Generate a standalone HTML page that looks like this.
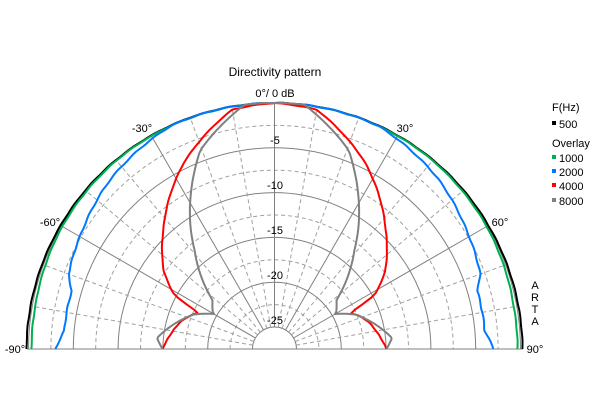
<!DOCTYPE html>
<html><head><meta charset="utf-8"><style>
body{margin:0;background:#fff}
svg{display:block;font-family:"Liberation Sans",sans-serif}
</style></head><body>
<svg id="s" width="600" height="400" viewBox="0 0 600 400">
<rect width="600" height="400" fill="#fff"/>
<g id="grid"></g>
<g id="curves" fill="none" stroke-width="2" stroke-linejoin="round"></g>
<g font-size="11" fill="#000">
<text x="275" y="76" text-anchor="middle" font-size="12">Directivity pattern</text>
<text x="275" y="97" text-anchor="middle">0°/ 0 dB</text>
<text x="142" y="132" text-anchor="middle">-30°</text>
<text x="405" y="132" text-anchor="middle">30°</text>
<text x="50" y="226" text-anchor="middle">-60°</text>
<text x="500" y="226" text-anchor="middle">60°</text>
<text x="15" y="353" text-anchor="middle">-90°</text>
<text x="535" y="353" text-anchor="middle">90°</text>
<text x="275" y="144" text-anchor="middle">-5</text>
<text x="275" y="189" text-anchor="middle">-10</text>
<text x="275" y="234" text-anchor="middle">-15</text>
<text x="275" y="279" text-anchor="middle">-20</text>
<text x="275" y="324" text-anchor="middle">-25</text>
<text x="552" y="111">F(Hz)</text>
<rect x="552" y="121" width="4" height="4" fill="#000"/><text x="559" y="128">500</text>
<text x="552" y="147">Overlay</text>
<rect x="552" y="155" width="4" height="4" fill="#00b050"/><text x="559" y="162">1000</text>
<rect x="552" y="169" width="4" height="4" fill="#0078ff"/><text x="559" y="176">2000</text>
<rect x="552" y="183" width="4" height="4" fill="#ff0000"/><text x="559" y="190">4000</text>
<rect x="552" y="198" width="4" height="4" fill="#808080"/><text x="559" y="205">8000</text>
<text x="535" y="289" text-anchor="middle">A</text>
<text x="535" y="301" text-anchor="middle">R</text>
<text x="535" y="313" text-anchor="middle">T</text>
<text x="535" y="325" text-anchor="middle">A</text>
</g>
</svg>
<script>
var cx=274.5,cy=349,NS="http://www.w3.org/2000/svg";
function el(p,t,a){var e=document.createElementNS(NS,t);for(var k in a)e.setAttribute(k,a[k]);p.appendChild(e);return e;}
function rr(db){return 22+(db+25)*8.96;}
var g=document.getElementById('grid');
for(var d=-27.5;d<=0.01;d+=2.5){var r=rr(d);if(r<20)continue;var solid=Math.abs(d/5-Math.round(d/5))<0.01;
el(g,'path',{d:'M'+(cx-r)+' '+cy+' A'+r+' '+r+' 0 0 1 '+(cx+r)+' '+cy,fill:'none',stroke:solid?'#808080':'#a0a0a0','stroke-width':1,'stroke-dasharray':solid?'':'4 3'});}
for(var a=-90;a<=90;a+=10){var t=a*Math.PI/180,r0=22,r1=rr(0);var solid=a%30==0;
el(g,'line',{x1:cx+r0*Math.sin(t),y1:cy-r0*Math.cos(t),x2:cx+r1*Math.sin(t),y2:cy-r1*Math.cos(t),stroke:solid?'#808080':'#a0a0a0','stroke-width':1,'stroke-dasharray':solid?'':'4 3'});}
el(g,'line',{x1:27,y1:cy,x2:523,y2:cy,stroke:'#808080','stroke-width':1});
function interp(pts,a){for(var i=0;i<pts.length-1;i++){if(a>=pts[i][0]&&a<=pts[i+1][0]){var f=(a-pts[i][0])/(pts[i+1][0]-pts[i][0]);return pts[i][1]+f*(pts[i+1][1]-pts[i][1]);}}return pts[pts.length-1][1];}
function curve(pts,col,jit){var s='';for(var a=-90;a<=90;a+=1){var r=interp(pts,Math.abs(a))+(jit?(Math.sin(a*7.3)*jit):0);var t=a*Math.PI/180;s+=(s?'L':'M')+(cx+r*Math.sin(t)).toFixed(1)+' '+(cy-r*Math.cos(t)).toFixed(1);}
el(document.getElementById('curves'),'path',{d:s,stroke:col});}
curve([[0,246],[60,247],[90,248]],'#000',0.2);
curve([[0,246],[40,246],[60,245],[80,243],[90,243]],'#00b050',0.2);
curve([[0,246],[25,246],[44,236],[58,226],[70,219],[74,211],[85,211],[90,219]],'#0078ff',0.4);
curve([[0,246],[10,243],[26,207],[43,163],[55,135],[61.6,114],[64.5,84],[68,90],[74,98],[90,112]],'#ff0000',0.2);
curve([[0,246],[7,246],[20.5,212],[35,146],[39,127],[51.7,79],[59,72],[60,70],[67,88],[84.6,118],[90,112]],'#808080',0);
</script>
</body></html>
